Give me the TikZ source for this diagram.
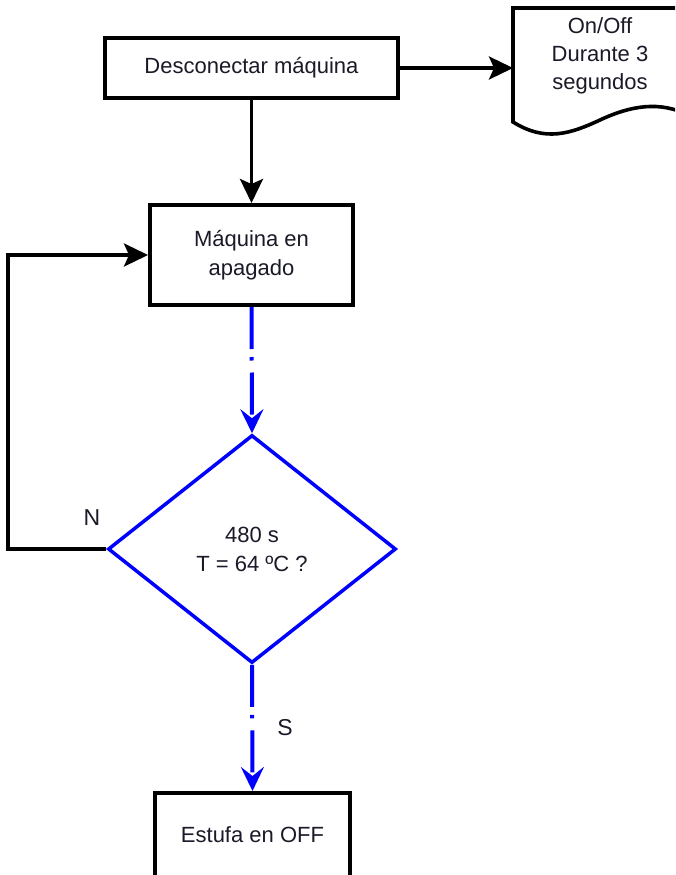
\documentclass[tikz,border=0pt]{standalone}
\usepackage{fontspec}
\setmainfont{Liberation Sans}
\usepackage{tikz}
\usetikzlibrary{shapes.geometric,arrows.meta}
\definecolor{ink}{HTML}{1A1A28}
\definecolor{azul}{HTML}{0000FF}

\begin{document}
\begin{tikzpicture}[x=1pt, y=-1pt,
  caja/.style={draw=black, line width=4pt, fill=white, text=ink, align=center,
    font=\fontsize{22}{29}\selectfont, inner sep=0pt},
  flecha/.style={draw=black, line width=3.6pt, -{Stealth[length=24pt, width=23pt, inset=5pt]}},
  flechaazul/.style={draw=azul, line width=4pt,
    dash pattern=on 42pt off 8pt on 3.5pt off 12pt,
    -{Stealth[length=24pt, width=23pt, inset=9pt]}}]
  \useasboundingbox (0,0) rectangle (675,875);
  \clip (0,0) rectangle (675,875);

  % Cajas
  \node[caja, minimum width=293pt, minimum height=60pt] (desc) at (251.5,68) {Desconectar máquina};
  \node[caja, minimum width=203pt, minimum height=100pt] (apag) at (251.5,255) {Máquina en\\apagado};
  \node[caja, draw=azul, line width=3.5pt, shape=diamond, minimum width=288pt, minimum height=228pt]
    (dec) at (252,549) {480 s\\T = 64 ºC ?};
  \node[caja, minimum width=195pt, minimum height=84pt] (estufa) at (252.5,835) {Estufa en OFF};

  % Documento -- borde derecho cortado
  \draw[black, line width=3.6pt, fill=white]
    (513,122) -- (513,8) -- (690,8) -- (690,116)
    .. controls (660,100) and (630,106) .. (600,120)
    .. controls (570,134) and (545,142) .. (513,122) -- cycle;
  \node[text=ink, align=center, font=\fontsize{22}{28}\selectfont] (onoff) at (600,56)
    {On/Off\\Durante 3\\segundos};
  \coordinate (docizq) at (513,68);

  % Conectores
  \draw[flecha] (desc.east) -- (docizq);
  \draw[flecha] (desc.south) -- (apag.north);
  \draw[flechaazul] (apag.south) -- (dec.north);
  \coordinate (vuelta) at (8,549);
  \draw[flecha] (dec.west) -- (vuelta) |- (apag.west);
  \draw[flechaazul] (dec.south) -- (estufa.north);

  % Etiquetas N / S
  \node[text=ink, font=\fontsize{23}{26}\selectfont] (labN) at (92,518) {N};
  \node[text=ink, font=\fontsize{23}{26}\selectfont] (labS) at (285,728) {S};
\end{tikzpicture}
\end{document}
